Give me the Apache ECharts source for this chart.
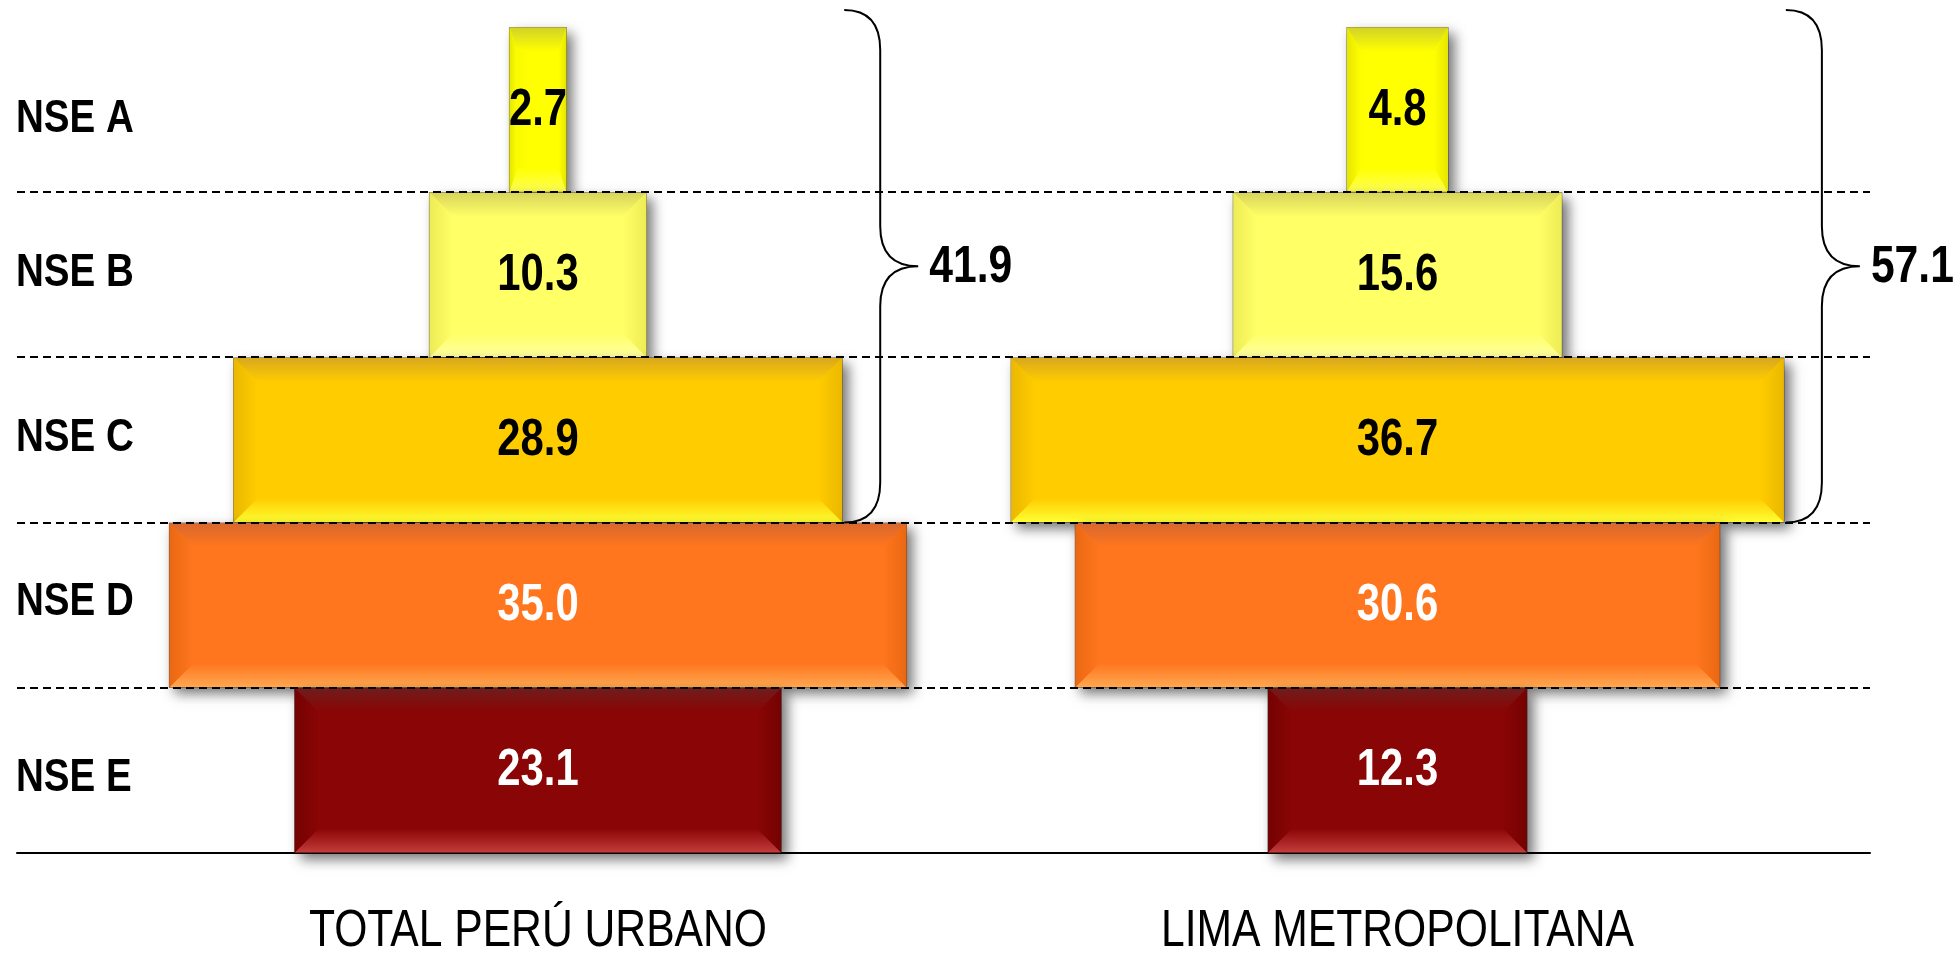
<!DOCTYPE html>
<html><head><meta charset="utf-8">
<script src="https://cdn.jsdelivr.net/npm/echarts@6/dist/echarts.min.js"></script>
<style>html,body{margin:0;padding:0;background:#fff}#c{width:1954px;height:955px}</style>
</head><body><div id="c"></div>
<script>
// ---- data ----
const categories = ['NSE A', 'NSE B', 'NSE C', 'NSE D', 'NSE E'];
const peruValues = [2.7, 10.3, 28.9, 35.0, 23.1];
const limaValues = [4.8, 15.6, 36.7, 30.6, 12.3];
const panelNames = ['TOTAL PERÚ URBANO', 'LIMA METROPOLITANA'];
const bracedCount = 3; // NSE A..C grouped by the brace

// ---- layout / style ----
const panelCenters = [24.74, 65.56]; // x-axis units where each pyramid is centred
const faceColors   = ['#FFFF00', '#FFFF66', '#FFCC00', '#FF761E', '#8A0505'];
const topColors    = ['#D2D22A', '#D8D45C', '#D8A81E', '#D8682E', '#701C1C'];
const bottomColors = ['#FFFF55', '#FFFFA0', '#FFFF33', '#FFA852', '#C43C3C'];
const sideColors   = ['#E6E600', '#EEEC56', '#EAB800', '#EA6812', '#740202'];
const labelColors  = ['#000', '#000', '#000', '#fff', '#fff'];
const catLabelShift = [9, -2, -2, -3, 8]; // small vertical nudges of the row labels (px)

function hasFont(name) {
  const c = document.createElement('canvas').getContext('2d');
  const t = 'NSE A 10.3 TOTAL PERÚ';
  c.font = '48px monospace'; const a = c.measureText(t).width;
  c.font = '48px "' + name + '", monospace'; const b = c.measureText(t).width;
  return Math.abs(a - b) > 0.5;
}
// Arial Narrow look: Arial metrics squeezed horizontally
let FONT = '"Liberation Sans", Arial, sans-serif', SX = 0.82;
if (hasFont('Arial Narrow')) { FONT = '"Arial Narrow"'; SX = 1; }
else if (hasFont('Liberation Sans Narrow')) { FONT = '"Liberation Sans Narrow"'; SX = 1; }

function grad(vertical, c1, c2) {
  return { type: 'linear', x: 0, y: 0, x2: vertical ? 0 : 1, y2: vertical ? 1 : 0,
           colorStops: [{ offset: 0, color: c1 }, { offset: 1, color: c2 }] };
}
function narrowText(text, x, y, font, fill, align) {
  return { type: 'text', x: x, y: y, scaleX: SX, scaleY: 1,
           style: { text: text, x: 0, y: 0, fill: fill, font: font,
                    align: align, verticalAlign: 'middle', textAlign: align, textVerticalAlign: 'middle' } };
}

function barSeries(values, k) {
  return {
    type: 'custom', z: 2, clip: false,
    encode: { x: 1, y: 0 },
    data: values.map((v, i) => [i, v, panelCenters[k]]),
    renderItem(params, api) {
      const i = api.value(0), v = api.value(1), c = api.value(2);
      const pl = api.coord([c - v / 2, i]), pr = api.coord([c + v / 2, i]);
      const h = api.size([0, 1])[1];
      const x0 = pl[0], x1 = pr[0], y0 = pl[1] - h / 2 + 0.5, y1 = pl[1] + h / 2 - 0.5;
      const w = x1 - x0;
      const by = Math.min(24, h * 0.15), bx = Math.min(24, w * 0.14);
      const cs = params.coordSys;
      const children = [
        { type: 'rect', shape: { x: x0, y: y0, width: w, height: y1 - y0 },
          style: { fill: faceColors[i], stroke: 'rgba(0,0,0,0.45)', lineWidth: 1.2,
                   shadowBlur: 12, shadowColor: 'rgba(0,0,0,0.55)', shadowOffsetX: 6, shadowOffsetY: 6 } },
        { type: 'polygon', shape: { points: [[x0, y0], [x1, y0], [x1 - bx, y0 + by], [x0 + bx, y0 + by]] },
          style: { fill: grad(true, topColors[i], faceColors[i]) } },
        { type: 'polygon', shape: { points: [[x0, y1], [x1, y1], [x1 - bx, y1 - by], [x0 + bx, y1 - by]] },
          style: { fill: grad(true, faceColors[i], bottomColors[i]) } },
        { type: 'polygon', shape: { points: [[x0, y0], [x0 + bx, y0 + by], [x0 + bx, y1 - by], [x0, y1]] },
          style: { fill: grad(false, sideColors[i], faceColors[i]) } },
        { type: 'polygon', shape: { points: [[x1, y0], [x1 - bx, y0 + by], [x1 - bx, y1 - by], [x1, y1]] },
          style: { fill: grad(false, faceColors[i], sideColors[i]) } },
        narrowText(v.toFixed(1), (x0 + x1) / 2, pl[1] + 1, 'bold 51px ' + FONT, labelColors[i], 'center')
      ];
      if (i === 0) {
        children.push(narrowText(panelNames[k], api.coord([c, 0])[0], cs.y + cs.height + 79,
                                 '52px ' + FONT, '#000', 'center'));
      }
      return { type: 'group', children };
    }
  };
}

// row (category) labels, positioned by the category axis
const rowLabelSeries = {
  type: 'custom', z: 3, clip: false,
  encode: { x: 0, y: 1 },
  data: categories.map((_, i) => [0, i]),
  renderItem(params, api) {
    const i = api.value(1);
    const p = api.coord([0, i]);
    return narrowText(categories[i], params.coordSys.x - 1, p[1] + catLabelShift[i],
                      'bold 47px ' + FONT, '#000', 'left');
  }
};

function braceSeries(values, k) {
  return {
    type: 'custom', z: 5, clip: false,
    encode: { x: 0, y: 1 },
    data: [[panelCenters[k], 0]],
    renderItem(params, api) {
      const c = panelCenters[k];
      const cs = params.coordSys;
      const h = api.size([0, 1])[1];
      const braced = values.slice(0, bracedCount);
      const half = Math.max.apply(null, braced) / 2;
      const xs = api.coord([c + half, 0])[0] + 2;
      const xv = xs + 36, xt = xv + 38;
      const yTop = cs.y - 17;
      const yBot = api.coord([0, bracedCount - 1])[1] + h / 2;
      const yMid = (yTop + yBot) / 2, r = 40;
      const d = `M${xs},${yTop} Q${xv},${yTop} ${xv},${yTop + r} L${xv},${yMid - r} ` +
                `Q${xv},${yMid} ${xt},${yMid} Q${xv},${yMid} ${xv},${yMid + r} ` +
                `L${xv},${yBot - r} Q${xv},${yBot} ${xs},${yBot}`;
      const total = braced.reduce((a, b) => a + b, 0);
      return { type: 'group', children: [
        { type: 'path', shape: { pathData: d }, style: { fill: 'none', stroke: '#000', lineWidth: 2 } },
        narrowText(total.toFixed(1), xt + 11, yMid + 1, 'bold 52px ' + FONT, '#000', 'left')
      ] };
    }
  };
}

const dividerSeries = {
  type: 'custom', z: 4, clip: false,
  encode: { x: 0, y: 1 },
  data: categories.slice(0, -1).map((_, i) => [0, i]),
  renderItem(params, api) {
    const cs = params.coordSys;
    const h = api.size([0, 1])[1];
    const y = Math.round(api.coord([0, api.value(1)])[1] + h / 2);
    return { type: 'line', shape: { x1: cs.x, y1: y, x2: cs.x + cs.width, y2: y },
             style: { stroke: '#000', lineWidth: 2.2, lineDash: [8, 5] } };
  }
};

const chart = echarts.init(document.getElementById('c'));
chart.setOption({
  animation: false,
  backgroundColor: '#fff',
  grid: { left: 17, right: 84, top: 27, bottom: 102, outerBoundsMode: 'none', containLabel: false },
  xAxis: { type: 'value', min: 0, max: 88, axisLabel: { show: false }, axisTick: { show: false },
           splitLine: { show: false }, axisLine: { show: true, lineStyle: { color: '#000', width: 2 } } },
  yAxis: { type: 'category', data: categories, inverse: true,
           axisLine: { show: false }, axisTick: { show: false }, splitLine: { show: false },
           axisLabel: { show: false } },
  series: [barSeries(peruValues, 0), barSeries(limaValues, 1), rowLabelSeries,
           dividerSeries, braceSeries(peruValues, 0), braceSeries(limaValues, 1)]
});
</script></body></html>
